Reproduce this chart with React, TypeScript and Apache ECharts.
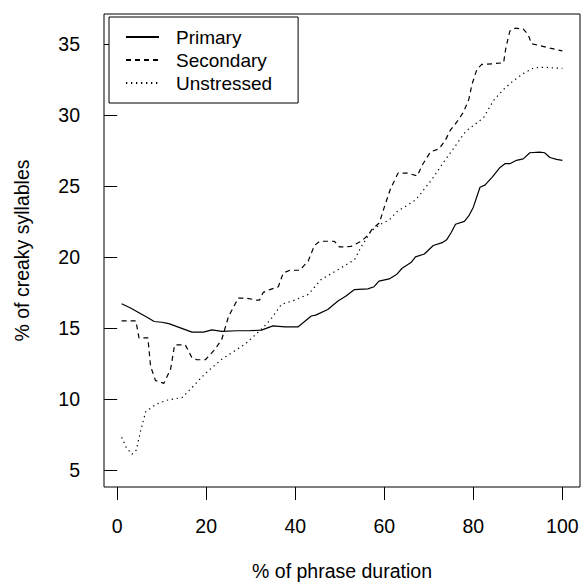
import React, { useEffect, useRef } from "react";
import * as echarts from "echarts";

const xTicks = [0, 20, 40, 60, 80, 100];
const yTicks = [5, 10, 15, 20, 25, 30, 35];

const seriesNames = ["Primary", "Secondary", "Unstressed"];

const primaryX = [1, 3, 4.9, 7, 8.3, 10, 11.6, 14.2, 16.8, 19.4, 21.3, 23.5, 27, 29.5, 32.4, 35, 37.7, 40.6, 43.6, 44.6, 47.3, 49.6, 51.4, 53.3, 56.3, 57.7, 58.8, 61.1, 62.9, 64, 66, 67, 69, 70, 71, 73, 74, 75, 76, 78, 79, 80, 81.5, 82.6, 84.2, 86, 87.1, 88.2, 89.7, 91.2, 92.7, 94.9, 96, 97.2, 98.7, 100];
const primaryY = [16.7, 16.4, 16.07, 15.7, 15.45, 15.4, 15.3, 15.0, 14.7, 14.7, 14.86, 14.75, 14.8, 14.8, 14.84, 15.14, 15.07, 15.07, 15.84, 15.9, 16.3, 16.9, 17.24, 17.7, 17.75, 17.9, 18.3, 18.45, 18.8, 19.2, 19.6, 20.0, 20.2, 20.5, 20.8, 21.0, 21.2, 21.7, 22.3, 22.5, 22.9, 23.5, 24.9, 25.05, 25.6, 26.3, 26.56, 26.56, 26.8, 26.9, 27.33, 27.38, 27.33, 27.0, 26.87, 26.8];

const secondaryX = [1, 4.2, 4.9, 6.9, 7.5, 8.6, 10.5, 12, 12.9, 15.3, 16.8, 17.9, 19.8, 22, 23.5, 25, 27.2, 29, 31.3, 32, 32.8, 34.3, 36.2, 37.3, 38.8, 41, 42.9, 44.3, 45.5, 48.8, 49.9, 52.5, 54.8, 56.25, 57.4, 58.9, 60, 61.4, 63.1, 65.2, 67.4, 68.5, 70.4, 72.3, 73.7, 74.8, 76.3, 77.8, 79, 79.7, 80.8, 81.9, 84.5, 86.8, 87.3, 88.2, 89.4, 91.2, 92.3, 93.1, 94.9, 97.2, 100];
const secondaryY = [15.5, 15.5, 14.3, 14.3, 12.3, 11.3, 11.1, 12.1, 13.8, 13.8, 12.9, 12.76, 12.76, 13.5, 14.2, 15.8, 17.1, 17.1, 16.96, 16.96, 17.5, 17.7, 17.9, 18.87, 19.06, 19.06, 19.7, 20.8, 21.1, 21.1, 20.7, 20.73, 21.1, 21.5, 22.0, 22.4, 23.5, 24.8, 25.9, 25.9, 25.7, 26.45, 27.4, 27.6, 28.2, 28.9, 29.5, 30.2, 31.1, 32.15, 33.2, 33.55, 33.6, 33.67, 34.7, 35.9, 36.1, 36.05, 35.65, 35.0, 34.88, 34.7, 34.5];

const unstressedX = [1, 2, 3.3, 4.3, 5.3, 6.4, 8.6, 11, 14.6, 16.8, 19.8, 23.5, 26.5, 28.7, 31, 33, 34.5, 36.9, 39.9, 42.9, 45.8, 49.6, 53.3, 54.8, 57, 58.9, 61.1, 62.9, 65, 67, 68.2, 70.8, 73.4, 76.3, 78.2, 80, 82.3, 84.5, 86.8, 89, 91.2, 93.5, 95.7, 100];
const unstressedY = [7.3, 6.6, 6.1, 6.4, 7.8, 9.1, 9.6, 9.9, 10.1, 10.8, 11.8, 12.8, 13.4, 13.86, 14.5, 15.1, 15.6, 16.66, 16.96, 17.36, 18.4, 19.1, 19.8, 20.7, 21.8, 22.25, 22.6, 23.2, 23.6, 24.0, 24.46, 25.5, 26.7, 27.96, 28.8, 29.25, 29.8, 31.0, 31.8, 32.4, 32.9, 33.3, 33.35, 33.27];

const FONT = "'Liberation Sans', Arial, Helvetica, sans-serif";

function zip(xs: number[], ys: number[]) {
  return xs.map((x, i) => [x, ys[i]]);
}

export default function App() {
  const ref = useRef<HTMLDivElement>(null);
  useEffect(() => {
    if (!ref.current) return;
    const chart = echarts.init(ref.current, undefined, { renderer: "svg" });
    const dashes: any[] = ["solid", [5, 4], [1.3, 3.7]];
    const data = [zip(primaryX, primaryY), zip(secondaryX, secondaryY), zip(unstressedX, unstressedY)];
    chart.setOption({
      animation: false,
      backgroundColor: "#ffffff",
      textStyle: { fontFamily: FONT, color: "#000" },
      grid: {
        left: 104,
        right: 5,
        top: 14,
        bottom: 94,
        show: true,
        borderColor: "#000",
        borderWidth: 1,
        backgroundColor: "transparent",
      },
      legend: {
        orient: "vertical",
        left: 109,
        top: 17,
        padding: [10, 26, 10, 16],
        itemGap: 3,
        itemWidth: 33,
        itemHeight: 20,
        borderColor: "#000",
        borderWidth: 1,
        backgroundColor: "#fff",
        data: seriesNames,
        itemStyle: { color: "rgba(0,0,0,0)", borderWidth: 0, opacity: 0 },
        textStyle: { fontFamily: FONT, fontSize: 19, color: "#000", lineHeight: 20, padding: [0, 0, 0, 12] },
      },
      xAxis: {
        type: "value",
        min: -2.96,
        max: 103.96,
        name: "% of phrase duration",
        nameLocation: "middle",
        nameGap: 74,
        nameTextStyle: { fontFamily: FONT, fontSize: 19.5, color: "#000" },
        axisLine: { show: false },
        splitLine: { show: false },
        axisTick: { show: true, length: 13, lineStyle: { color: "#000", width: 1 }, customValues: xTicks },
        axisLabel: { fontFamily: FONT, fontSize: 19.5, color: "#000", margin: 29, customValues: xTicks },
      },
      yAxis: {
        type: "value",
        min: 3.8,
        max: 37.1,
        name: "% of creaky syllables",
        nameLocation: "middle",
        nameGap: 72,
        nameRotate: 90,
        nameTextStyle: { fontFamily: FONT, fontSize: 19.5, color: "#000" },
        axisLine: { show: false },
        splitLine: { show: false },
        axisTick: { show: true, length: 13, lineStyle: { color: "#000", width: 1 }, customValues: yTicks },
        axisLabel: { fontFamily: FONT, fontSize: 19.5, color: "#000", margin: 24, customValues: yTicks },
      },
      series: seriesNames.map((name, i) => ({
        name,
        type: "line",
        data: data[i],
        symbol: "none",
        showSymbol: false,
        smooth: false,
        lineStyle: { color: "#000", width: 1.2, type: dashes[i] },
        itemStyle: { color: "#000" },
      })),
    });
    return () => chart.dispose();
  }, []);
  return <div ref={ref} style={{ position: "absolute", left: 0, top: 0, width: 585, height: 586 }} />;
}
